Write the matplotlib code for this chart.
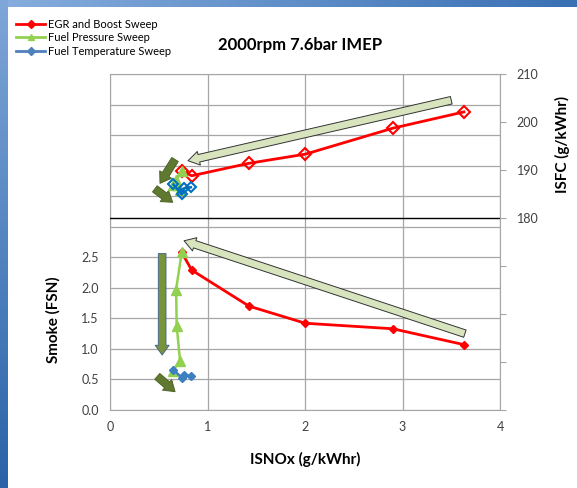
import numpy as np
import matplotlib
matplotlib.use("Agg")
import matplotlib.pyplot as plt
from matplotlib.lines import Line2D

plt.rcParams['font.family'] = ['Lato', 'DejaVu Sans']

# EGR and Boost sweep
egr_nox = [0.735, 0.838, 1.426, 2.003, 2.899, 3.630]
egr_isfc = [189.8, 188.8, 191.4, 193.3, 198.7, 202.1]
egr_smoke = [2.58, 2.29, 1.70, 1.42, 1.33, 1.07]

# Fuel pressure sweep
fp_nox = [0.735, 0.678, 0.684, 0.718, 0.645]
fp_isfc = [189.8, 188.0, 186.8, 185.8, 186.8]
fp_smoke = [2.58, 1.97, 1.38, 0.81, 0.64]

# Fuel temperature sweep
ft_nox = [0.650, 0.735, 0.760, 0.830]
ft_isfc = [187.0, 184.9, 186.2, 186.4]
ft_smoke = [0.66, 0.53, 0.57, 0.55]

# annotation block arrows (tail, tip) in NOx / left-axis units
big_arrows = [((3.50, 5.07), (0.80, 4.08)),
              ((3.64, 1.25), (0.76, 2.77))]
dark_arrows = [((0.667, 4.10), (0.513, 3.71)),
               ((0.460, 3.62), (0.643, 3.40)),
               ((0.485, 0.55), (0.667, 0.30))]
vert_arrow = ((0.535, 2.56), (0.535, 0.90))

red = '#ff0000'
green = '#92d050'
blue = '#3d7fc1'

fig = plt.figure(figsize=(5.77, 4.88), dpi=100)

# slide border
top = fig.add_axes([0, 1 - 7 / 488, 1, 7 / 488])
top.imshow(np.linspace(0, 1, 200)[None, :], aspect='auto',
           cmap=matplotlib.colors.LinearSegmentedColormap.from_list('t', ['#86addd', '#3a70b4']))
top.axis('off')
left = fig.add_axes([0, 0, 8 / 577, 1])
left.imshow(np.linspace(0, 1, 200)[:, None], aspect='auto',
            cmap=matplotlib.colors.LinearSegmentedColormap.from_list('l', ['#7ea6d8', '#2a63a8']))
left.axis('off')

ax = fig.add_axes([110 / 577, 78 / 488, 390 / 577, 336 / 488])
ax2 = ax.twinx()

ax.set_xlim(0, 4)
ax.set_ylim(0, 5.5)
ax.set_xticks([0, 1, 2, 3, 4])
ax.set_yticks(np.arange(0, 5.51, 0.5))
ax.set_yticklabels(['%.1f' % v if v <= 2.5 else '' for v in np.arange(0, 5.51, 0.5)])
ax.grid(True, color='#a6a6a6', lw=0.9)
ax.set_axisbelow(True)
ax.tick_params(axis='both', labelsize=9, colors='#404040', length=0, pad=8)
for s in ax.spines.values():
    s.set_color('#a6a6a6')

ax2.set_ylim(140, 210)
ticks2 = np.arange(140, 211, 10)
ax2.set_yticks(ticks2)
ax2.set_yticklabels([str(t) if t >= 180 else '' for t in ticks2])
ax2.tick_params(axis='y', labelsize=9, colors='#404040', length=4, direction='out',
                color='#a6a6a6', pad=8)
for s in ax2.spines.values():
    s.set_visible(False)
ax2.axhline(180, color='black', lw=1)

# ISFC on right axis
ax2.plot(egr_nox, egr_isfc, color=red, lw=2, marker='D', ms=6, mfc='none', mec=red, mew=1.5)
ax2.plot(fp_nox, fp_isfc, color=green, lw=1.8, marker='^', ms=7, mfc=green, mec=green)
ax2.plot(ft_nox, ft_isfc, color='#0070c0', lw=1.8, marker='D', ms=5, mfc='none', mec='#0070c0', mew=1.5)

# smoke on left axis
ax.plot(egr_nox, egr_smoke, color=red, lw=2, marker='D', ms=4.5, mfc=red, mec=red)
ax.plot(fp_nox, fp_smoke, color=green, lw=1.8, marker='^', ms=7, mfc=green, mec=green)
ax.plot(ft_nox, ft_smoke, color=blue, lw=1.8, marker='D', ms=4.5, mfc=blue, mec=blue)

for tail, tip in big_arrows:
    ax.annotate('', xy=tip, xytext=tail, zorder=6,
                arrowprops=dict(arrowstyle='simple,head_length=0.8,head_width=1.0,tail_width=0.55',
                                fc='#d7e4bd', ec='#333333', lw=0.7, shrinkA=0, shrinkB=0))
for tail, tip in dark_arrows:
    ax.annotate('', xy=tip, xytext=tail, zorder=6,
                arrowprops=dict(arrowstyle='simple,head_length=0.75,head_width=1.0,tail_width=0.55',
                                fc='#5f7a30', ec='#4f6228', lw=0.7, shrinkA=0, shrinkB=0))
ax.annotate('', xy=vert_arrow[1], xytext=vert_arrow[0], zorder=6,
            arrowprops=dict(arrowstyle='simple,head_length=0.7,head_width=1.0,tail_width=0.55',
                            fc='#77933c', ec='#4a6a8a', lw=0.7, shrinkA=0, shrinkB=0))

ax.set_xlabel('ISNOx (g/kWhr)', fontsize=11, fontweight='bold')
ax.xaxis.set_label_coords(0.5, -0.125)
ax.set_ylabel('Smoke (FSN)', fontsize=11, fontweight='bold')
ax.yaxis.set_label_coords(-0.128, 0.27)
ax2.set_ylabel('ISFC (g/kWhr)', fontsize=11, fontweight='bold')
ax2.yaxis.set_label_coords(1.14, 0.79)

fig.text(0.52, 1 - 45 / 488, '2000rpm 7.6bar IMEP', fontsize=12, fontweight='bold',
         ha='center', va='center')

handles = [Line2D([], [], color=red, lw=2, marker='D', ms=4),
           Line2D([], [], color=green, lw=2, marker='^', ms=5),
           Line2D([], [], color='#4f81bd', lw=2, marker='D', ms=4)]
fig.legend(handles, ['EGR and Boost Sweep', 'Fuel Pressure Sweep', 'Fuel Temperature Sweep'],
           loc='upper left', bbox_to_anchor=(0.015, 0.978), frameon=False, fontsize=8,
           handlelength=2.6, handletextpad=0.2, labelspacing=0.25, borderpad=0.2)

fig.savefig('out.png', dpi=100)
